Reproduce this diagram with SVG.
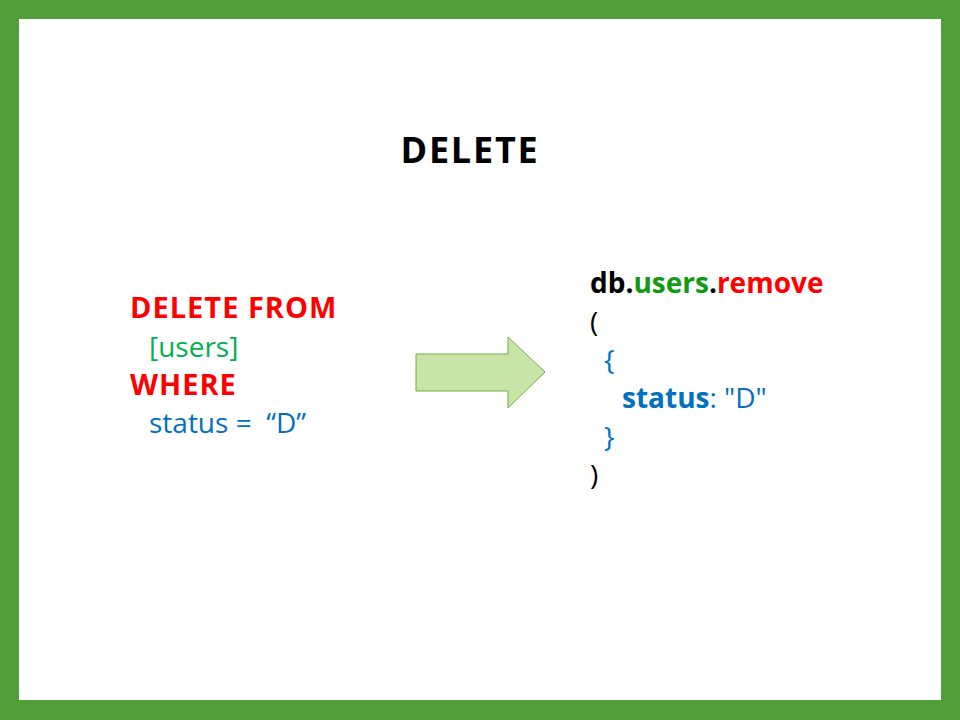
<svg xmlns="http://www.w3.org/2000/svg" width="960" height="720" viewBox="0 0 960 720">
<style>
text{font-family:"Open Sans","Liberation Sans",sans-serif;}
.t{font-size:36px;font-weight:bold;fill:#000;letter-spacing:1.8px;}
.c{font-size:28px;}
.b{font-weight:bold;}
.ls{font-size:29px;letter-spacing:1px;}
.red{fill:#FF0000;}
.grn{fill:#00B050;}
.dg{fill:#139A13;}
.blu{fill:#0070C0;}
.blk{fill:#000;}
</style>
<rect x="0" y="0" width="960" height="720" fill="#529E3A"/>
<rect x="19" y="19" width="922" height="681" fill="#FFFFFF"/>
<g id="title"><text class="t" x="470" y="163" text-anchor="middle">DELETE</text></g>
<g id="sql">
<text class="c b red ls" x="130" y="318">DELETE FROM</text>
<text class="c grn" x="149" y="357">[users]</text>
<text class="c b red ls" x="130" y="395">WHERE</text>
<text class="c blu" x="149" y="433">status =&#160; “D”</text>
</g>
<g id="connectors">
<polygon points="416,354 508,354 508,337 545,372 508,408 508,391 416,391" fill="#C9E4A7" stroke="#70AD47" stroke-width="1"/>
</g>
<g id="mongo">
<text class="c b" x="590" y="293"><tspan class="blk">db.</tspan><tspan class="dg">users</tspan><tspan class="blk">.</tspan><tspan class="red">remove</tspan></text>
<text class="c blk" x="590" y="332">(</text>
<text class="c blu" x="604" y="370">{</text>
<text class="c blu" x="622" y="408"><tspan class="b">status</tspan>: "D"</text>
<text class="c blu" x="604" y="447">}</text>
<text class="c blk" x="590" y="485">)</text>
</g>
</svg>
